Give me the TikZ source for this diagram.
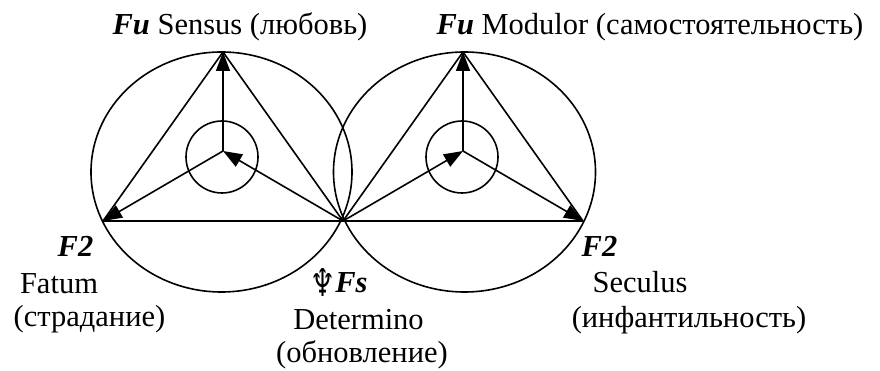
\documentclass[tikz,border=0pt]{standalone}
\usepackage{fontspec}
\usepackage{graphicx}
\setmainfont{Liberation Serif}
\newfontfamily\symfont{DejaVu Sans}
\usetikzlibrary{arrows.meta}
\begin{document}
\begin{tikzpicture}[x=1pt,y=-1pt, line width=1.6pt,
  arr/.style={-{Triangle[length=19pt,width=14pt]}},
  lbl/.style={inner sep=0pt, anchor=base, font=\fontsize{30.5}{36}\selectfont}]
\useasboundingbox (0,0) rectangle (880,371);
% outer ellipses and inner circles
\draw (221.5,172) ellipse [x radius=130.5pt, y radius=120pt];
\draw (464.5,172) ellipse [x radius=131pt, y radius=120pt];
\draw (222,157) circle [radius=36pt];
\draw (462,157) circle [radius=36pt];
% points
\coordinate (C1) at (223,151);
\coordinate (T1) at (223,52);
\coordinate (V1) at (103,221);
\coordinate (M)  at (343,221);
\coordinate (C2) at (463,151);
\coordinate (T2) at (463,52);
\coordinate (V2) at (583,221);
% triangles
\draw (T1) -- (V1);
\draw (T1) -- (M);
\draw (T2) -- (M);
\draw (T2) -- (V2);
\draw (V1) -- (V2);
% arrows
\draw[arr] (C1) -- (T1);
\draw[arr] (C1) -- (V1);
\draw[arr] (M) -- (C1);
\draw[arr] (C2) -- (T2);
\draw[arr] (C2) -- (V2);
\draw[arr] (M) -- (C2);
% labels
\node[lbl] (sensus) at (240,35) {\textbf{\textit{Fu}} Sensus (любовь)};
\node[lbl] (modulor) at (650,35) {\textbf{\textit{Fu}} Modulor (самостоятельность)};
\node[lbl] (f2l) at (75.5,256) {\textbf{\textit{F2}}};
\node[lbl] (fatum) at (59,293) {Fatum};
\node[lbl] (strad) at (89.5,326) {(страдание)};
\node[lbl] (fs) at (339,292) {\raisebox{-4pt}{\resizebox{25pt}{28pt}{\symfont ♆}}\textbf{\textit{Fs}}};
\node[lbl] (det) at (358.5,329) {Determino};
\node[lbl] (obn) at (362,362) {(обновление)};
\node[lbl] (f2r) at (599.5,256) {\textbf{\textit{F2}}};
\node[lbl] (sec) at (640,292) {Seculus};
\node[lbl] (inf) at (689,327) {(инфантильность)};
\end{tikzpicture}
\end{document}
